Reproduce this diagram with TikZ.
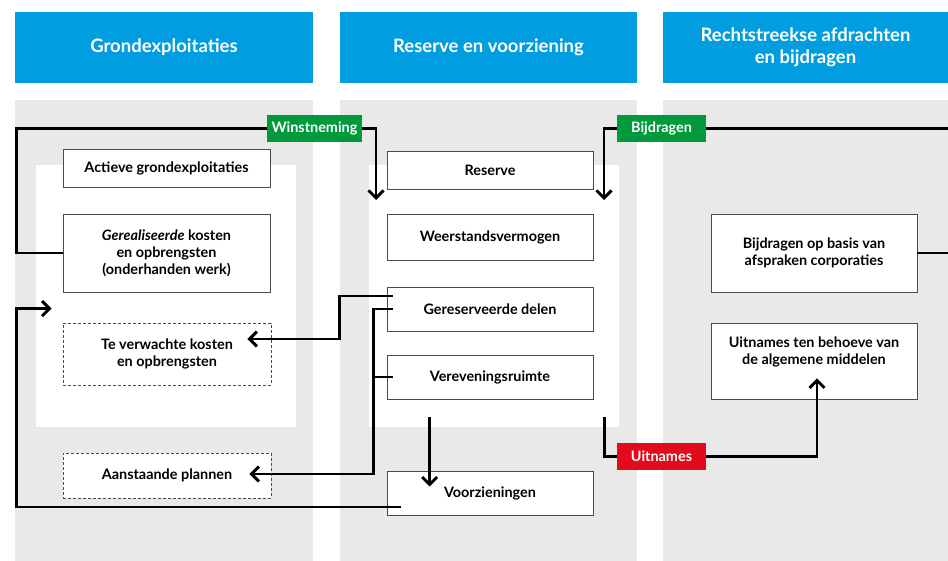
\documentclass[tikz,border=0pt]{standalone}
\usepackage{fontspec}
\setmainfont{Lato}
\usetikzlibrary{arrows.meta, positioning}

\definecolor{headblue}{HTML}{009EE0}
\definecolor{panelgray}{HTML}{E9E9E9}
\definecolor{tagred}{HTML}{E30A1C}
\definecolor{taggreen}{HTML}{009A3D}
\definecolor{boxline}{HTML}{4A4A4A}

\pgfdeclarelayer{panels}
\pgfdeclarelayer{front}
\pgfsetlayers{panels,main,front}

\begin{document}
\begin{tikzpicture}[
    x=1pt, y=-1pt,
    font=\bfseries\fontsize{14.4}{17}\selectfont,
    head/.style    ={fill=headblue, text=white, align=center, inner sep=0pt,
                     minimum height=71pt, font=\bfseries\fontsize{18.5}{22}\selectfont},
    box/.style     ={draw=boxline, line width=0.8pt, fill=white, align=center,
                     inner sep=2pt, minimum width=206pt},
    dashbox/.style ={box, dash pattern=on 3pt off 2pt},
    tag/.style     ={text=white, align=center, inner sep=0pt, minimum width=89pt,
                     minimum height=27pt},
    flow/.style    ={-{Straight Barb[length=7.5pt,width=15pt]}, line width=2.9pt},
    rail/.style    ={line width=2.9pt}
]
\useasboundingbox (0,0) rectangle (948,561);

% --- Column headers ---
\node[head, minimum width=298pt] (hgrond) at (164,47.5) {Grondexploitaties};
\node[head, minimum width=297pt] (hres)   at (488.5,47.5) {Reserve en voorziening};
\node[head, minimum width=285pt] (hafdr)  at (805.5,47.5) {Rechtstreekse afdrachten\\en bijdragen};

% --- Panels ---
\begin{pgfonlayer}{panels}
\fill[panelgray] (15,100) rectangle (313,561);
\fill[panelgray] (340,100) rectangle (637,561);
\fill[panelgray] (663,100) rectangle (948,561);
\fill[white] (36,165) rectangle (296,427);
\fill[white] (369,165) rectangle (619,427);
\end{pgfonlayer}

% Left column
\node[box, minimum width=207pt, minimum height=38pt] (actief) at (166.5,168) {Actieve grondexploitaties};
\node[box, minimum width=207pt, minimum height=78pt] (gereal) at (166.5,253)
    {\textit{Gerealiseerde} kosten\\en opbrengsten\\(onderhanden werk)};
\node[dashbox, minimum width=208pt, minimum height=62pt] (teverw) at (167,354)
    {Te verwachte kosten\\en opbrengsten};
\node[dashbox, minimum width=208pt, minimum height=45pt] (aanst) at (167,475.5) {Aanstaande plannen};

% Middle column
\node[box, minimum height=38pt] (reserve)  at (490,170) {Reserve};
\node[box, minimum height=46pt] (weerst)   at (490,237) {Weerstandsvermogen};
\node[box, minimum height=44pt] (gereserv) at (490,309) {Gereserveerde delen};
\node[box, minimum height=44pt] (verev)    at (490,377) {Vereveningsruimte};
\node[box, minimum height=44pt] (voorz)    at (490,493) {Voorzieningen};

% Right column
\node[box, minimum height=78pt] (bijdrbasis) at (814,253) {Bijdragen op basis van\\afspraken corporaties};
\node[box, minimum height=76pt, text depth=20pt] (uitnalg) at (814,361)
    {Uitnames ten behoeve van\\de algemene middelen};

% --- Tags ---
\begin{pgfonlayer}{front}
\node[tag, fill=taggreen, minimum width=95pt] (winst) at (314.5,128.5) {Winstneming};
\node[tag, fill=taggreen] (bijdr) at (661.5,128.5) {Bijdragen};
\node[tag, fill=tagred]   (uitn)  at (661.5,456.5) {Uitnames};
\end{pgfonlayer}

\coordinate (winstin)  at (376,200);
\coordinate (bijdrin)  at (604,200);
\coordinate (bijdrout) at (948,128.5);

% --- Arrows ---
\draw[flow] (gereal.west) -- ++(-46,0) |- (winst) -| (winstin);
\draw[flow] (bijdrout) -| (bijdrin);
\draw[rail] (bijdrbasis.east) -- (bijdrbasis.east -| bijdrout);

\draw[flow] ([xshift=6pt,yshift=13pt]gereserv.west) -- ++(-53,0)
    |- ([xshift=-24pt,yshift=15pt]teverw.east);
\draw[flow] ([xshift=6pt]gereserv.west) -- ++(-19,0)
    |- ([xshift=-22pt,yshift=1.5pt]aanst.east);
\draw[rail] ([xshift=6pt]verev.west) -- ++(-19,0);

\draw[flow] ([xshift=14pt,yshift=-14pt]voorz.west) -- ++(-384,0)
    |- ([xshift=-11pt,yshift=14pt]teverw.north west);
\draw[flow] ([xshift=43pt,yshift=-18pt]verev.south west)
    -- ([xshift=43pt,yshift=-16pt]voorz.north west);

\draw[flow] ([xshift=11pt,yshift=-18pt]verev.south east) -- ++(0,39)
    -| ([xshift=3pt,yshift=21pt]uitnalg.south);

\end{tikzpicture}
\end{document}
